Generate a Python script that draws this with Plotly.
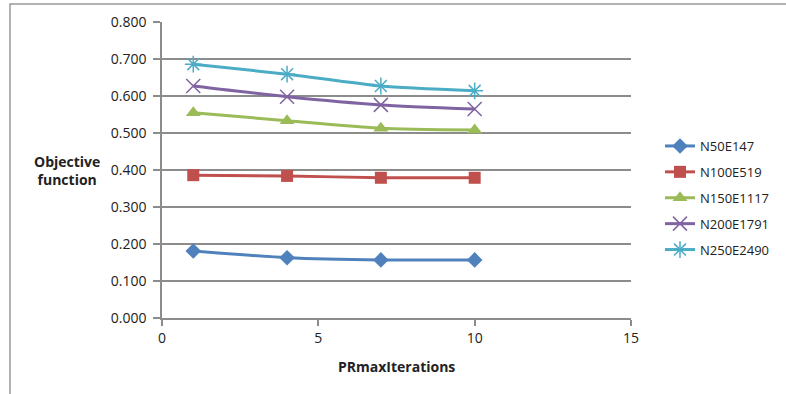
import plotly.graph_objects as go

# PRmaxIterations values tested
iterations = [1, 4, 7, 10]

# Objective function per network size
n50e147 = [0.181, 0.163, 0.157, 0.157]
n100e519 = [0.386, 0.384, 0.379, 0.379]
n150e1117 = [0.555, 0.533, 0.513, 0.508]
n200e1791 = [0.627, 0.598, 0.576, 0.565]
n250e2490 = [0.686, 0.659, 0.627, 0.614]

series_names = ["N50E147", "N100E519", "N150E1117", "N200E1791", "N250E2490"]
series_values = [n50e147, n100e519, n150e1117, n200e1791, n250e2490]
colors = ["#4F81BD", "#C0504D", "#9BBB59", "#8064A2", "#4BACC6"]
symbols = ["diamond", "square", "triangle-up", "x-thin-open", "asterisk-open"]
sizes = [12, 12, 13, 14, 14]

y_ticks = [0.0, 0.1, 0.2, 0.3, 0.4, 0.5, 0.6, 0.7, 0.8]
x_ticks = [0, 5, 10, 15]

FONT = "Open Sans"
GRID = "#8C8C8C"

fig = go.Figure()
for i, (name, vals) in enumerate(zip(series_names, series_values)):
    open_marker = symbols[i].endswith("open")
    fig.add_trace(go.Scatter(
        x=iterations, y=vals, name=name, mode="lines+markers",
        legendgroup=name,
        line=dict(color=colors[i], width=3, shape="spline", smoothing=0.6),
        marker=dict(symbol=symbols[i], size=sizes[i], color=colors[i],
                    line=dict(color=colors[i], width=1.5 if open_marker else 0)),
    ))

fig.update_layout(
    width=786, height=394,
    margin=dict(l=162, r=155, t=22, b=76, autoexpand=False),
    paper_bgcolor="white", plot_bgcolor="white",
    font=dict(family=FONT, size=14, color="#222222"),
    showlegend=True,
    legend=dict(x=(660 - 162) / 469, y=(318 - 198) / 296,
                xanchor="left", yanchor="middle",
                font=dict(family=FONT, size=13, color="#222222"),
                tracegroupgap=6, bgcolor="rgba(0,0,0,0)"),
    xaxis=dict(range=[0, 15], tickvals=x_ticks, ticktext=[str(v) for v in x_ticks],
               showgrid=False, zeroline=False, showline=True, linecolor=GRID,
               linewidth=1.5, ticks="outside", ticklen=6, tickcolor=GRID,
               tickwidth=1.5, tickfont=dict(size=14)),
    yaxis=dict(range=[0, 0.8], tickvals=y_ticks,
               ticktext=[f"{v:.3f}" for v in y_ticks],
               showgrid=True, gridcolor=GRID, gridwidth=1.5, zeroline=False,
               showline=True, linecolor=GRID, linewidth=1.5,
               ticks="outside", ticklen=7, tickcolor=GRID, tickwidth=1.5,
               ticklabelstandoff=4, tickfont=dict(size=14)),
    annotations=[
        dict(text="<b>Objective<br>function</b>", xref="paper", yref="paper",
             x=(67 - 162) / 469, y=(318 - 170) / 296,
             xanchor="center", yanchor="middle", showarrow=False,
             font=dict(size=14), align="center"),
        dict(text="<b>PRmaxIterations</b>", xref="paper", yref="paper",
             x=(396 - 162) / 469, y=(318 - 366) / 296,
             xanchor="center", yanchor="middle", showarrow=False,
             font=dict(size=14)),
    ],
    shapes=[
        dict(type="rect", xref="paper", yref="paper",
             x0=(10 - 162) / 469, x1=(800 - 162) / 469,
             y0=(318 - 410) / 296, y1=1 + (22 - 4) / 296,
             line=dict(color="#999999", width=1.5), layer="below"),
    ],
)

fig.write_html("out.html")
